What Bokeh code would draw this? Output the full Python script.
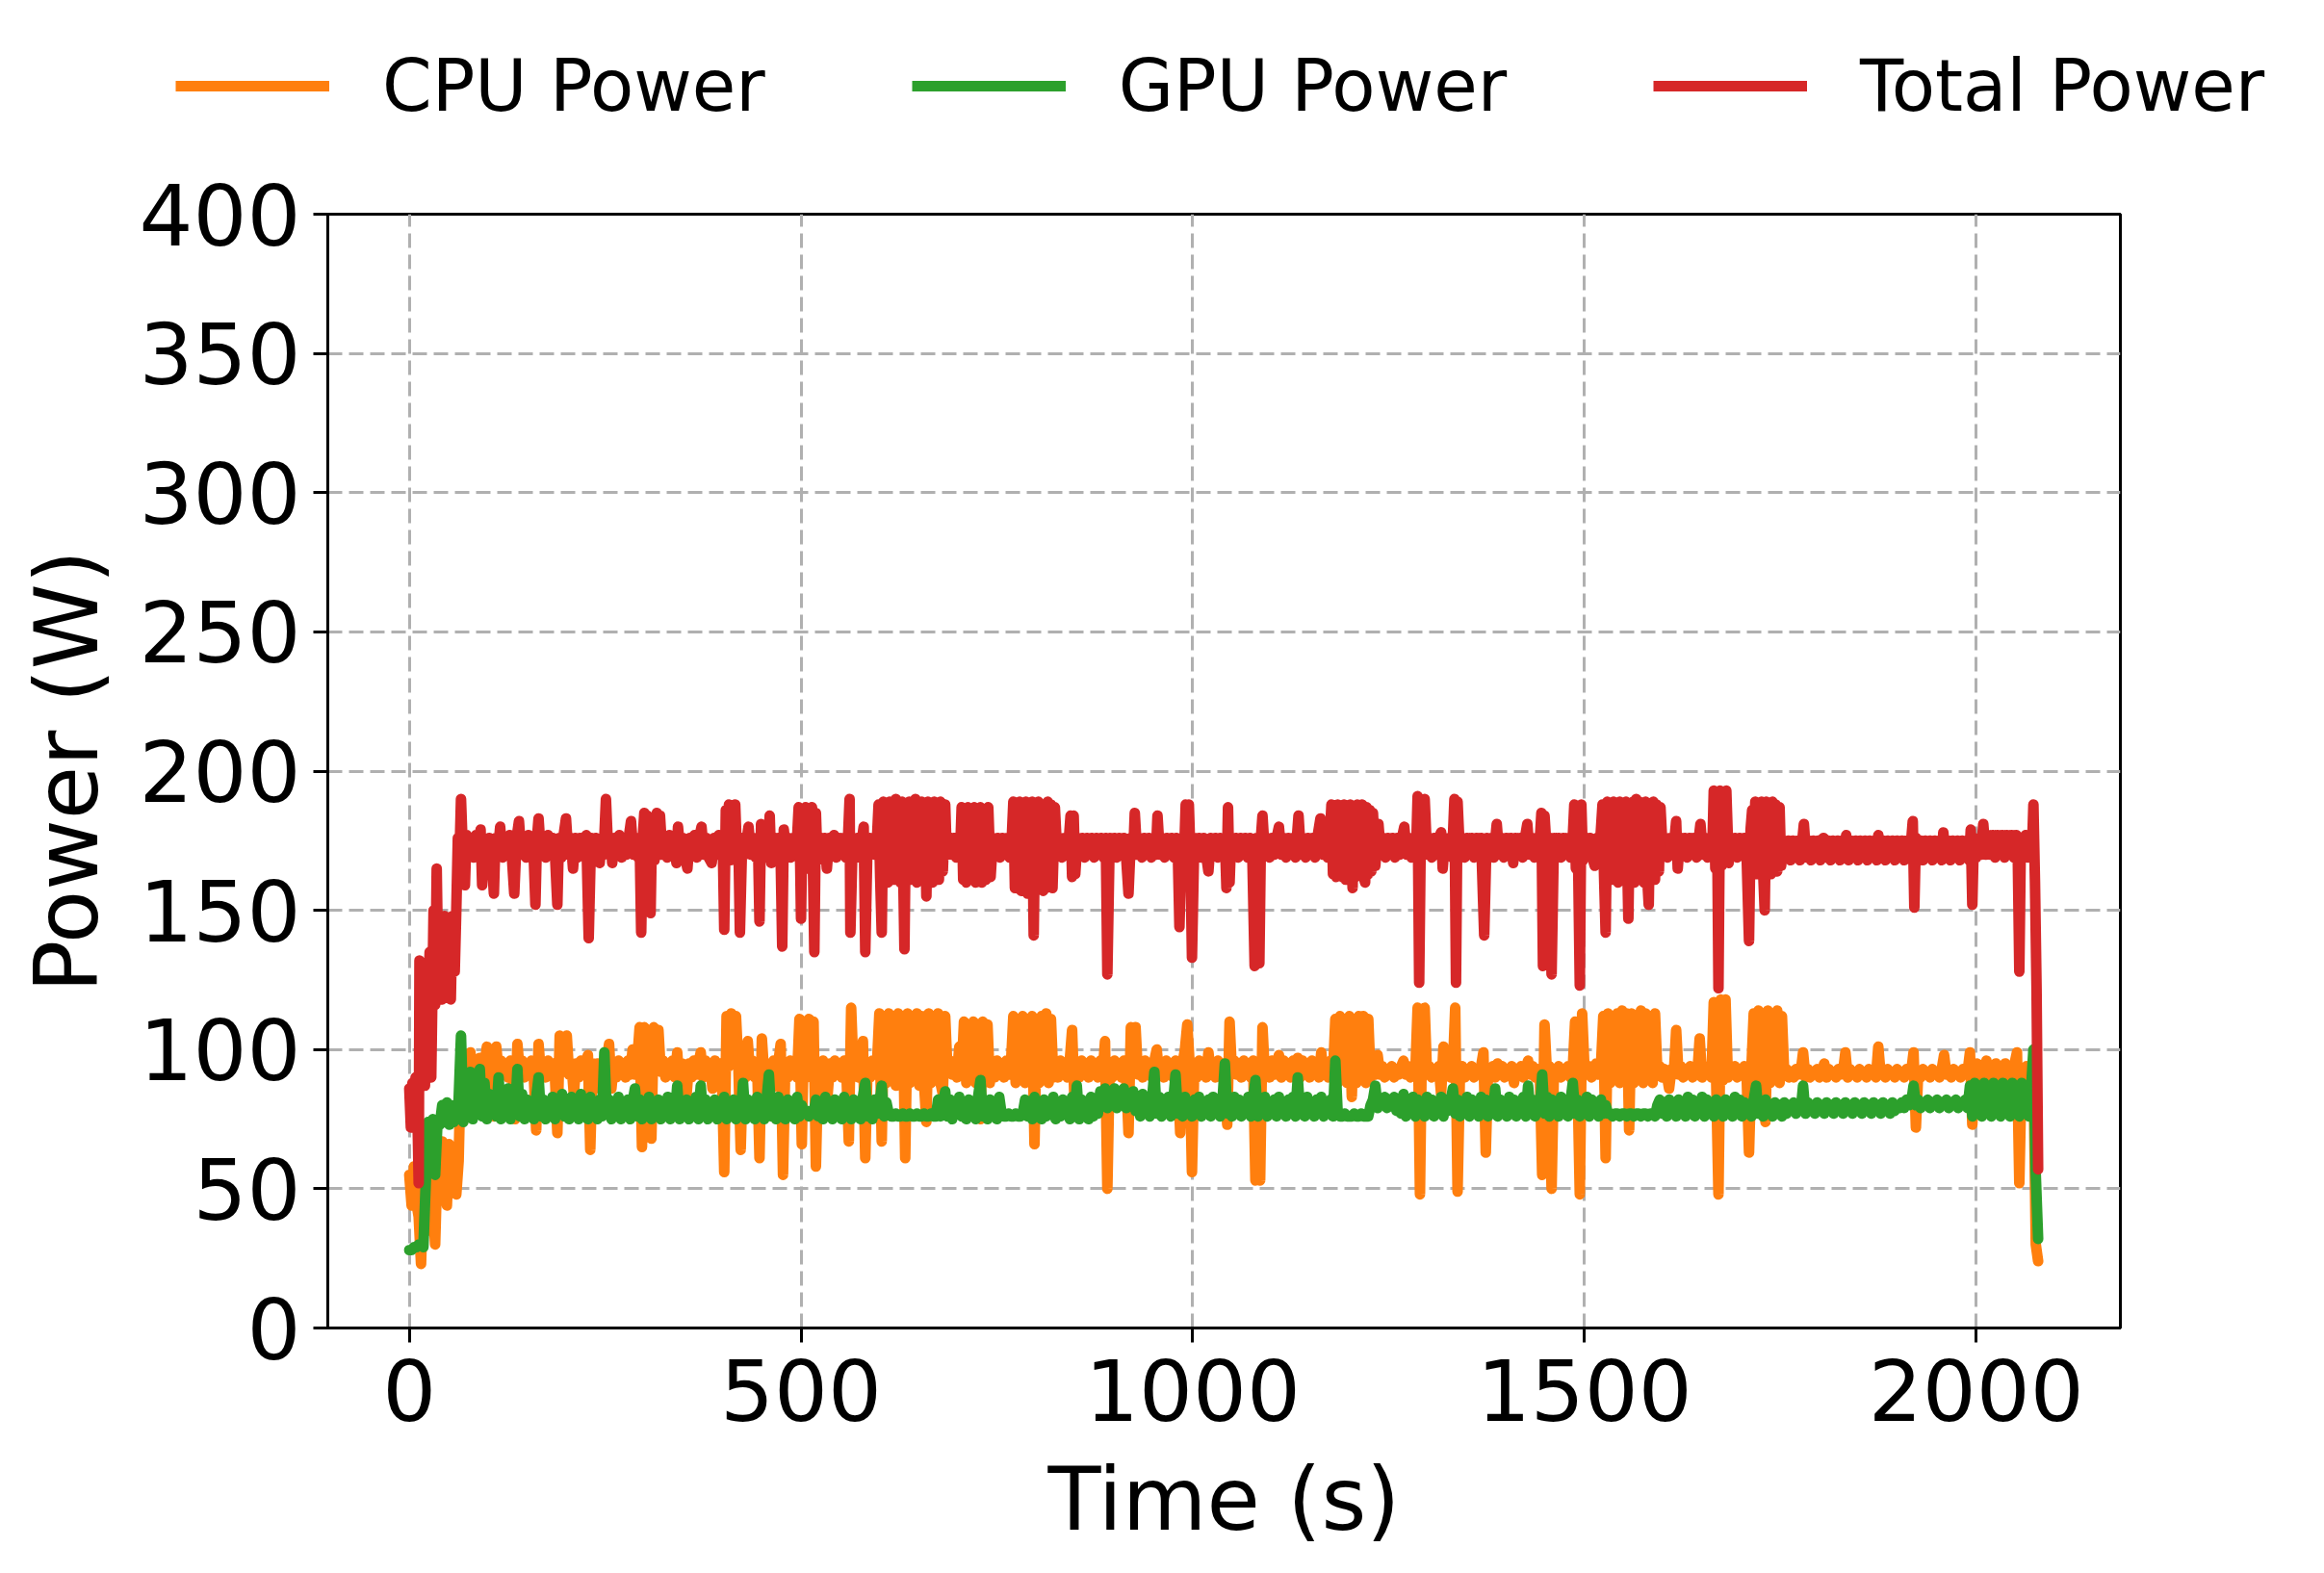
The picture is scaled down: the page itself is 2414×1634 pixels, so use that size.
from bokeh.plotting import figure
from bokeh.models import Range1d, Legend, LegendItem, FixedTicker
from bokeh.embed import file_html
from bokeh.resources import INLINE

# ---------------- data ----------------
# Total power: (time s, power W)
total_points = [
(0,86),(2,72),(4,88),(6,76),(8,90),(10,84),(12,52),(13,132),(15,118),(17,130),(19,95),(20,87),(22,126),(24,118),(26,135),(28,90),(31,150),(33,116),(35,165),(37,126),(40,146),(42,118),(45,148),(48,123),(50,146),(53,118),(55,148),(58,128),(60,150),(62,176),(64,168),(66,190),(68,174),(71,159),(73,177),(76,170),(79,176),(82,169),(85,177),(88,170),(91,179),(93,159),(96,175),(99,169),(102,176),(105,170),(108,156),(110,176),(113,170),(116,180),(119,169),(122,176),(125,170),(128,177),(131,169),(134,156),(137,176),(140,182),(143,170),(146,176),(149,169),(152,177),(155,170),(158,176),(161,152),(163,176),(165,183),(168,170),(171,176),(174,169),(177,177),(180,170),(183,176),(186,170),(189,152),(191,176),(194,169),(197,177),(200,183),(203,170),(206,176),(209,165),(212,176),(215,169),(218,176),(221,170),(224,176),(226,177),(229,140),(232,176),(235,170),(238,176),(241,169),(243,167),(246,176),(248,170),(251,190),(254,170),(257,176),(259,167),(262,176),(265,170),(268,177),(271,169),(274,176),(277,170),(280,176),(283,182),(286,170),(289,176),(292,169),(294,176),(296,142),(298,176),(300,185),(302,168),(304,184),(306,170),(308,149),(310,183),(313,168),(316,185),(318,170),(320,184),(323,170),(326,176),(329,169),(332,177),(335,170),(338,176),(341,167),(343,180),(346,170),(349,176),(352,169),(355,165),(358,176),(361,170),(364,177),(367,169),(370,176),(373,180),(376,170),(379,176),(382,169),(386,167),(389,176),(392,170),(395,177),(398,170),(400,176),(402,143),(404,186),(406,170),(408,188),(410,168),(412,187),(414,170),(416,188),(418,172),(420,176),(422,142),(425,176),(428,170),(431,176),(433,180),(436,170),(439,176),(442,169),(445,176),(447,146),(449,181),(452,170),(455,176),(458,169),(460,184),(462,167),(465,176),(468,170),(471,176),(474,169),(476,137),(478,179),(481,170),(484,176),(487,169),(490,176),(493,170),(495,176),(497,187),(499,166),(500,147),(502,186),(504,168),(506,187),(508,165),(510,186),(512,168),(514,187),(517,135),(519,185),(521,168),(524,176),(527,170),(530,176),(533,165),(536,176),(539,170),(542,177),(545,169),(548,176),(551,170),(554,176),(557,169),(560,176),(562,190),(563,142),(566,176),(569,170),(572,176),(575,169),(578,176),(580,180),(582,135),(585,176),(588,170),(591,176),(594,170),(597,176),(599,188),(601,162),(603,142),(605,189),(607,162),(609,188),(611,160),(613,189),(615,163),(617,187),(619,161),(621,190),(623,164),(625,188),(627,160),(629,189),(632,136),(634,188),(636,162),(638,189),(640,161),(642,188),(644,163),(646,190),(648,160),(650,188),(652,162),(654,189),(656,161),(658,188),(660,155),(662,189),(664,162),(666,188),(668,160),(670,189),(672,163),(674,188),(676,161),(678,189),(681,164),(684,188),(686,170),(689,176),(692,170),(695,176),(698,169),(701,176),(703,170),(705,187),(707,161),(709,186),(711,160),(713,187),(715,162),(717,186),(719,161),(721,187),(723,160),(725,186),(727,162),(729,187),(731,160),(733,186),(736,161),(739,187),(742,162),(745,176),(748,170),(751,176),(754,169),(757,176),(760,170),(763,176),(766,169),(769,176),(771,189),(773,158),(775,188),(777,160),(779,189),(781,157),(783,188),(785,160),(787,189),(789,156),(791,188),(793,159),(795,189),(797,141),(799,188),(801,158),(803,189),(805,160),(807,188),(809,157),(811,188),(813,158),(815,189),(817,160),(819,188),(821,158),(824,187),(827,170),(830,176),(833,169),(836,176),(839,170),(842,176),(844,184),(846,162),(848,184),(850,163),(853,176),(856,170),(859,176),(862,169),(865,176),(868,170),(871,176),(874,169),(877,176),(880,170),(883,176),(886,169),(889,176),(891,127),(894,176),(897,170),(900,176),(903,169),(906,176),(909,170),(912,176),(915,169),(918,156),(921,176),(924,170),(926,185),(929,170),(932,176),(935,169),(938,176),(941,170),(944,176),(947,169),(950,176),(953,170),(955,184),(958,170),(961,176),(964,169),(967,176),(970,170),(973,176),(976,169),(979,176),(981,170),(983,144),(986,176),(989,170),(991,188),(993,160),(995,188),(997,170),(999,133),(1002,176),(1005,170),(1008,176),(1011,169),(1014,176),(1017,170),(1020,164),(1023,176),(1026,170),(1029,176),(1032,169),(1035,176),(1038,170),(1041,176),(1043,158),(1045,187),(1047,160),(1049,176),(1052,170),(1055,176),(1058,169),(1061,176),(1064,170),(1067,176),(1070,169),(1073,176),(1076,170),(1079,130),(1081,176),(1083,170),(1085,131),(1087,176),(1089,184),(1092,170),(1095,176),(1098,169),(1101,176),(1104,170),(1107,176),(1110,180),(1113,170),(1116,176),(1119,169),(1122,176),(1125,170),(1128,176),(1131,169),(1135,184),(1138,170),(1141,176),(1144,169),(1147,176),(1150,170),(1153,176),(1156,169),(1159,176),(1163,183),(1166,170),(1169,176),(1172,169),(1175,176),(1177,188),(1179,163),(1181,187),(1183,162),(1185,188),(1187,164),(1189,186),(1191,162),(1193,188),(1195,161),(1197,187),(1199,163),(1201,188),(1204,158),(1206,187),(1208,162),(1210,188),(1212,163),(1214,186),(1216,188),(1218,162),(1220,160),(1222,187),(1224,163),(1226,186),(1228,164),(1230,185),(1233,166),(1237,181),(1240,170),(1243,176),(1246,169),(1249,176),(1252,170),(1255,176),(1258,169),(1261,176),(1264,170),(1267,176),(1270,180),(1273,170),(1276,176),(1279,169),(1282,176),(1285,170),(1287,191),(1289,124),(1291,176),(1294,170),(1296,190),(1299,170),(1302,176),(1305,169),(1308,176),(1311,170),(1314,176),(1317,178),(1319,165),(1322,176),(1325,170),(1328,176),(1331,169),(1334,190),(1336,124),(1338,189),(1341,170),(1344,176),(1347,169),(1350,176),(1353,170),(1356,176),(1359,169),(1362,176),(1365,170),(1368,176),(1372,141),(1375,176),(1378,170),(1381,176),(1384,169),(1388,181),(1391,170),(1394,176),(1397,169),(1400,176),(1403,170),(1406,176),(1409,167),(1412,176),(1415,170),(1418,176),(1421,169),(1424,176),(1427,181),(1430,170),(1433,176),(1436,169),(1439,176),(1442,170),(1445,185),(1447,130),(1449,184),(1452,170),(1455,176),(1458,127),(1461,176),(1464,170),(1467,176),(1470,169),(1473,176),(1476,170),(1479,176),(1482,169),(1485,176),(1487,188),(1489,165),(1491,187),(1494,123),(1496,188),(1498,168),(1501,176),(1504,170),(1507,176),(1510,169),(1513,166),(1516,176),(1519,170),(1523,188),(1525,162),(1527,142),(1529,189),(1531,163),(1533,188),(1535,161),(1537,189),(1539,162),(1541,188),(1543,160),(1545,189),(1547,163),(1549,188),(1551,161),(1553,189),(1556,147),(1558,188),(1560,162),(1562,189),(1564,160),(1566,190),(1568,161),(1570,189),(1572,163),(1574,188),(1576,160),(1578,189),(1580,162),(1582,152),(1584,188),(1586,163),(1588,189),(1590,161),(1592,188),(1595,164),(1597,187),(1600,170),(1603,176),(1606,169),(1609,176),(1612,170),(1615,176),(1617,182),(1619,165),(1622,176),(1625,170),(1628,176),(1631,169),(1634,176),(1637,170),(1640,176),(1643,169),(1646,176),(1648,181),(1651,170),(1654,176),(1657,169),(1660,176),(1663,170),(1665,193),(1667,165),(1669,192),(1671,122),(1673,193),(1675,166),(1677,192),(1679,168),(1681,193),(1684,167),(1686,176),(1689,170),(1692,176),(1695,169),(1698,176),(1701,170),(1704,176),(1707,169),(1710,139),(1712,179),(1714,186),(1716,165),(1718,189),(1720,163),(1722,188),(1724,166),(1726,189),(1728,164),(1730,150),(1732,189),(1734,165),(1736,188),(1738,163),(1740,189),(1742,166),(1744,188),(1746,164),(1749,187),(1751,166),(1754,175),(1757,169),(1760,175),(1763,168),(1766,175),(1769,169),(1772,175),(1775,168),(1778,175),(1780,181),(1783,169),(1786,175),(1789,168),(1792,175),(1795,169),(1798,175),(1801,168),(1805,176),(1808,169),(1811,175),(1814,168),(1817,175),(1820,169),(1823,175),(1826,168),(1829,175),(1832,169),(1834,177),(1837,168),(1840,175),(1843,169),(1846,175),(1849,168),(1852,175),(1855,169),(1858,175),(1861,168),(1864,175),(1867,169),(1870,175),(1873,168),(1875,177),(1878,169),(1881,175),(1884,168),(1887,175),(1890,169),(1893,175),(1896,168),(1899,175),(1902,169),(1905,175),(1908,168),(1911,175),(1914,169),(1917,175),(1919,182),(1921,151),(1923,176),(1926,169),(1929,175),(1932,168),(1935,175),(1938,169),(1941,175),(1944,168),(1947,175),(1950,169),(1953,175),(1956,168),(1958,178),(1961,169),(1964,175),(1967,168),(1970,175),(1973,169),(1976,175),(1979,168),(1982,175),(1985,169),(1988,175),(1991,168),(1993,179),(1995,152),(1997,176),(2000,169),(2003,175),(2006,170),(2009,181),(2012,170),(2015,177),(2018,170),(2021,177),(2024,169),(2027,177),(2030,170),(2033,177),(2036,169),(2039,177),(2042,170),(2045,177),(2048,169),(2051,177),(2053,170),(2055,128),(2057,176),(2060,170),(2063,177),(2066,169),(2069,176),(2071,170),(2073,188),(2075,160),(2077,122),(2079,57),
]

# CPU power, sampled every 3 s; each row covers 60 s (row start time in comment)
cpu_rows = [
 [55,44,58,45,40,23,50,62,35,66,45,30,60,50,67,50,44,66,50,64],  # 0
 [48,60,97,92,78,94,99,91,95,90,97,78,94,101,91,95,76,101,92,96],  # 60
 [91,95,90,96,91,75,102,92,96,90,95,91,96,90,71,102,91,95,90,96],  # 120
 [91,95,90,70,105,92,104,105,91,95,84,95,90,96,91,95,98,64,95,90],  # 180
 [95,86,94,90,96,102,86,95,90,96,91,95,90,96,91,100,91,96,108,65],  # 240
 [108,92,107,68,108,93,107,92,96,90,95,91,96,90,99,86,95,90,84,95],  # 300
 [90,96,91,95,99,90,96,91,95,86,96,90,95,91,56,112,94,113,95,112],  # 360
 [94,64,95,90,103,91,96,90,95,61,104,91,95,90,86,96,91,95,102,55],  # 420
 [95,90,96,91,95,90,111,66,110,90,111,92,110,58,95,90,96,91,84,95],  # 480
 [90,96,91,95,90,96,91,67,115,92,96,90,95,103,61,95,90,96,91,95],  # 540
 [113,67,112,88,113,89,112,87,113,88,112,61,113,88,112,89,113,87,112,88],  # 600
 [74,113,88,112,89,113,88,84,112,92,96,91,95,90,101,91,110,88,109,89],  # 660
 [110,88,109,75,110,89,109,88,95,90,96,91,95,90,96,91,95,112,88,111],  # 720
 [89,112,88,111,89,112,66,111,88,112,89,113,88,111,90,95,90,96,91,95],  # 780
 [90,96,107,82,95,90,96,91,95,90,96,91,95,90,96,91,103,50,95,90],  # 840
 [96,91,95,90,96,91,70,108,92,108,91,95,90,96,91,95,90,96,100,91],  # 900
 [95,90,96,91,95,90,96,91,70,95,100,109,95,56,95,90,96,91,95,90],  # 960
 [99,91,95,90,96,91,95,90,73,110,92,96,91,95,90,96,91,95,90,96],  # 1020
 [53,95,53,108,91,95,90,96,91,95,98,90,96,91,95,90,96,91,97,90],  # 1080
 [96,91,95,90,96,91,95,90,99,91,95,90,96,91,111,88,112,89,111,88],  # 1140
 [112,83,111,88,112,89,112,88,111,90,95,91,98,91,94,90,93,91,94,90],  # 1200
 [93,91,94,96,91,94,90,93,91,115,48,114,115,91,94,90,93,91,94,84],  # 1260
 [101,91,94,90,93,115,49,91,94,90,93,91,94,90,93,91,94,99,63,93],  # 1320
 [91,94,90,95,91,94,90,93,91,94,88,93,91,94,90,93,96,91,94,90],  # 1380
 [93,91,55,109,92,94,50,93,91,94,90,93,91,94,90,93,110,91,48,113],  # 1440
 [93,91,94,90,93,95,91,94,112,61,113,88,112,89,113,88,114,89,113,71],  # 1500
 [113,88,112,89,114,88,113,89,112,88,113,92,94,90,93,91,86,93,91,107],  # 1560
 [91,94,90,93,91,94,90,93,91,104,90,93,91,94,90,117,90,48,118,89],  # 1620
 [118,90,93,91,94,90,93,91,94,90,63,93,113,88,114,89,113,74,114,88],  # 1680
 [113,89,114,88,112,91,93,90,92,90,93,91,92,99,90,93,90,92,91,93],  # 1740
 [90,92,95,90,93,91,92,90,93,91,92,99,90,93,91,92,90,93,91,92],  # 1800
 [90,93,91,92,90,101,91,92,90,93,91,92,90,93,91,92,90,93,91,92],  # 1860
 [99,72,92,90,93,91,92,90,93,91,92,90,93,98,91,92,90,93,91,92],  # 1920
 [90,93,91,92,99,73,92,95,90,94,91,96,90,94,91,95,90,94,91,95],  # 1980
 [90,94,91,95,99,52,93,91,94,90,94,96,30,24],  # 2040
]

# GPU power, sampled every 3 s; each row covers 60 s
gpu_rows = [
 [28,28,29,29,30,30,29,52,74,73,75,55,74,73,80,74,81,73,80,74],  # 0
 [76,82,105,74,88,76,92,75,86,77,93,76,88,75,84,77,80,76,90,75],  # 60
 [84,76,86,75,82,77,93,76,84,75,82,77,80,75,83,90,76,82,75,81],  # 120
 [76,83,75,81,77,84,76,80,75,83,76,81,75,84,77,80,75,83,76,81],  # 180
 [75,82,76,99,77,82,75,81,76,83,75,80,77,82,75,81,86,76,82,75],  # 240
 [81,76,83,75,80,77,82,75,81,76,83,75,80,76,87,75,81,77,82,75],  # 300
 [81,76,83,75,87,76,82,75,81,77,82,75,80,76,83,75,81,77,82,75],  # 360
 [81,76,88,75,82,77,80,75,83,76,81,75,82,91,76,81,75,83,76,80],  # 420
 [75,82,77,81,75,83,76,80,77,78,76,78,77,82,76,80,75,83,76,81],  # 480
 [75,82,77,80,75,83,76,81,75,82,77,80,75,83,88,76,81,75,82,77],  # 540
 [80,87,76,81,77,76,76,77,76,76,77,76,76,77,76,76,77,76,76,77],  # 600
 [76,76,77,76,76,82,76,80,85,76,82,75,81,77,83,76,80,75,82,77],  # 660
 [81,75,83,89,76,81,75,82,77,80,75,83,77,76,76,77,76,76,77,76],  # 720
 [76,77,82,76,81,75,83,77,80,75,82,76,81,77,83,75,80,76,82,77],  # 780
 [81,75,83,76,87,75,82,77,80,75,83,76,81,77,85,80,86,79,85,80],  # 840
 [86,79,85,80,86,79,84,81,85,78,82,76,84,77,83,76,82,92,77,83],  # 900
 [76,82,77,83,76,81,91,77,82,76,83,77,81,76,82,77,83,76,81,77],  # 960
 [82,76,83,77,81,76,82,95,77,81,76,83,77,82,76,81,77,83,76,82],  # 1020
 [89,76,82,77,83,76,81,77,82,76,83,77,81,76,82,77,83,76,90,77],  # 1080
 [82,76,83,77,81,76,82,77,83,76,81,77,82,76,96,77,76,76,77,76],  # 1140
 [76,76,77,76,76,77,76,76,76,80,82,87,79,82,80,83,79,82,80,83],  # 1200
 [78,82,77,84,76,81,78,83,76,82,77,81,76,83,78,82,76,81,77,83],  # 1260
 [76,82,78,81,86,77,82,76,81,78,83,76,82,77,81,76,83,78,82,76],  # 1320
 [81,77,86,76,82,78,81,76,83,77,82,76,81,78,83,76,87,77,82,76],  # 1380
 [81,78,91,77,83,76,82,78,81,76,83,77,82,76,81,88,77,82,76,81],  # 1440
 [77,83,76,82,78,81,76,82,77,80,77,77,76,77,77,76,77,77,76,77],  # 1500
 [77,76,77,77,76,77,77,76,77,77,76,80,82,77,81,76,82,78,81,76],  # 1560
 [82,77,81,76,83,77,82,76,81,77,83,76,82,77,80,76,82,77,81,76],  # 1620
 [82,77,81,76,83,77,82,76,81,77,80,76,82,87,77,81,76,82,77,80],  # 1680
 [76,81,77,80,76,81,77,80,78,81,77,80,78,87,77,81,78,80,77,81],  # 1740
 [78,80,77,81,78,80,77,81,78,80,77,81,78,80,77,81,78,80,77,81],  # 1800
 [78,80,77,81,78,80,77,81,78,80,77,81,78,80,79,81,79,82,80,81],  # 1860
 [87,80,82,79,81,80,82,79,81,80,82,79,81,80,82,79,81,80,82,79],  # 1920
 [81,80,82,79,87,76,88,77,87,76,88,77,87,76,88,77,86,76,88,77],  # 1980
 [87,76,88,77,86,76,88,77,87,76,86,100,55,32],  # 2040
]

x_ticks = [0, 500, 1000, 1500, 2000]
y_ticks = [0, 50, 100, 150, 200, 250, 300, 350, 400]
series_labels = ["CPU Power", "GPU Power", "Total Power"]
series_colors = ["#ff7f0e", "#2ca02c", "#d62728"]


def rows_to_xy(rows, row_span=60, step=3):
    xs, ys = [], []
    for k, row in enumerate(rows):
        for j, v in enumerate(row):
            xs.append(k * row_span + j * step)
            ys.append(v)
    return xs, ys


cpu_t, cpu_w = rows_to_xy(cpu_rows)
gpu_t, gpu_w = rows_to_xy(gpu_rows)
total_t = [a for a, b in total_points]
total_w = [b for a, b in total_points]

FONT = "DejaVu Sans"
PAGE_W = 2414
LEG_H = 150
FRAME_W, FRAME_H = 1862, 1157
LW = 11

# ---------------- legend strip (separate root so it is not clipped) ----------------
lg = figure(
    title=None, width=PAGE_W, height=LEG_H,
    x_range=Range1d(0, 1), y_range=Range1d(0, 1),
    min_border_left=0, min_border_right=0, min_border_top=0, min_border_bottom=0,
    x_axis_location=None, y_axis_location=None,
    output_backend="svg", toolbar_location=None,
    background_fill_color="white", border_fill_color="white",
)
lg.grid.visible = False
lg.outline_line_color = None
# swatch renderers: their points lie outside the strip's ranges, only the legend shows them
leg_renderers = [lg.line(x=[-5, -4], y=[-5, -5], line_color=c, line_width=LW)
                 for c in series_colors]
legend = Legend(
    items=[LegendItem(label=lab, renderers=[r]) for lab, r in zip(series_labels, leg_renderers)],
    orientation="horizontal", location=(182, LEG_H - 89 - 50),
    label_text_font=FONT, label_text_font_size="74px", label_text_color="black",
    glyph_width=160, glyph_height=100, label_height=100,
    label_standoff=55, spacing=152,
    padding=0, margin=0,
    border_line_alpha=0, background_fill_alpha=0,
)
lg.add_layout(legend, "center")

# ---------------- main plot ----------------
p = figure(
    title=None,
    frame_width=FRAME_W, frame_height=FRAME_H,
    min_border_left=340, min_border_right=PAGE_W - 340 - FRAME_W,
    min_border_top=222 - LEG_H, min_border_bottom=255,
    x_range=Range1d(-104, 2184), y_range=Range1d(0, 400),
    output_backend="svg", toolbar_location=None,
    background_fill_color="white", border_fill_color="white",
)

for xs, ys, col in [(cpu_t, cpu_w, series_colors[0]),
                    (gpu_t, gpu_w, series_colors[1]),
                    (total_t, total_w, series_colors[2])]:
    p.line(xs, ys, line_color=col, line_width=LW,
           line_join="round", line_cap="round")

p.xaxis.ticker = FixedTicker(ticks=x_ticks)
p.yaxis.ticker = FixedTicker(ticks=y_ticks)
p.xaxis.axis_label = "Time (s)"
p.yaxis.axis_label = "Power (W)"
for ax in [p.xaxis[0], p.yaxis[0]]:
    ax.major_label_text_font = FONT
    ax.major_label_text_font_size = "88px"
    ax.major_label_text_color = "black"
    ax.axis_label_text_font = FONT
    ax.axis_label_text_font_size = "90px"
    ax.axis_label_text_font_style = "normal"
    ax.axis_label_text_color = "black"
    ax.major_tick_out = 15
    ax.major_tick_in = 0
    ax.minor_tick_out = 0
    ax.minor_tick_in = 0
    ax.major_tick_line_width = 3
    ax.major_tick_line_color = "black"
    ax.axis_line_width = 3
    ax.axis_line_color = "black"
p.xaxis.major_label_standoff = 17
p.xaxis.axis_label_standoff = 26
p.yaxis.major_label_standoff = 13
p.yaxis.axis_label_standoff = 20

p.outline_line_color = "black"
p.outline_line_width = 3
p.outline_line_alpha = 1.0

p.grid.grid_line_color = "#b0b0b0"
p.grid.grid_line_width = 3
p.grid.grid_line_dash = "15 7"

open("out.html", "w").write(file_html([lg, p], INLINE))
